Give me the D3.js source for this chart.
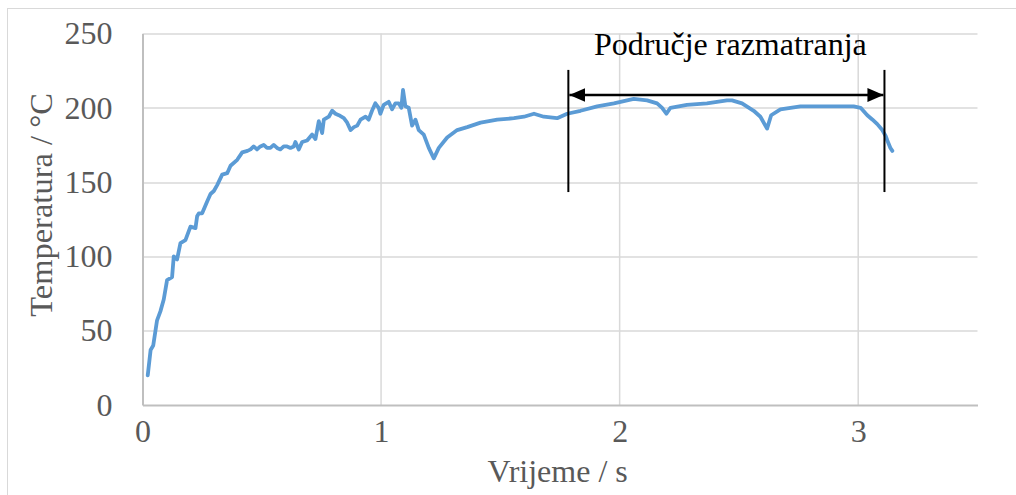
<!DOCTYPE html>
<html>
<head>
<meta charset="utf-8">
<script src="https://cdn.jsdelivr.net/npm/d3@7"></script>
<style>
  body { margin: 0; background: #fff; }
  svg { display: block; }
</style>
</head>
<body>
<div data-output></div>
<script>
// time (s)
const times = [
  0.022, 0.034, 0.045, 0.061, 0.075, 0.089, 0.103, 0.124, 0.131, 0.145, 0.159,
  0.180, 0.201, 0.222, 0.229, 0.236, 0.250, 0.271, 0.285, 0.299, 0.313, 0.334,
  0.355, 0.369, 0.397, 0.418, 0.440, 0.453, 0.466, 0.480, 0.494, 0.508, 0.522,
  0.536, 0.550, 0.564, 0.578, 0.592, 0.606, 0.620, 0.634, 0.641, 0.655, 0.669,
  0.690, 0.711, 0.725, 0.739, 0.753, 0.760, 0.781, 0.795, 0.809, 0.823, 0.844,
  0.858, 0.872, 0.886, 0.900, 0.914, 0.935, 0.948, 0.962, 0.976, 0.990, 0.997,
  1.011, 1.032, 1.046, 1.060, 1.074, 1.085, 1.092, 1.102, 1.116, 1.130, 1.144,
  1.158, 1.179, 1.200, 1.221, 1.242, 1.277, 1.319, 1.361, 1.417, 1.487, 1.557,
  1.599, 1.641, 1.682, 1.738, 1.780, 1.836, 1.906, 1.976, 2.059, 2.115, 2.157,
  2.178, 2.196, 2.213, 2.282, 2.366, 2.450, 2.471, 2.513, 2.562, 2.590, 2.618,
  2.635, 2.674, 2.758, 2.869, 2.981, 3.010, 3.038, 3.060, 3.080, 3.101, 3.115,
  3.122, 3.135, 3.143
];
// temperature (°C)
const temps = [
  20, 37, 40, 57, 63, 71, 84, 86, 100, 98, 109,
  111, 120, 119, 127, 129, 129, 137, 142, 144, 148, 155,
  156, 161, 165, 170, 171, 172, 174, 172, 174, 175, 173,
  173, 175, 173, 172, 174, 174, 173, 174, 177, 172, 177,
  178, 182, 179, 191, 183, 192, 194, 198, 196, 195, 193,
  190, 185, 187, 188, 192, 194, 192, 198, 203, 200, 196,
  202, 204, 199, 203, 203, 200, 212, 201, 200, 188, 192,
  185, 182, 173, 166, 173, 180, 185, 187, 190, 192, 193,
  194, 196, 194, 193, 196, 198, 201, 203, 206, 205, 203,
  200, 196, 200, 202, 203, 205, 205, 203, 198, 194, 186,
  195, 199, 201, 201, 201, 200, 195, 192, 189, 185, 181,
  178, 173, 171
];

const xTicks = [0, 1, 2, 3];
const yTicks = [0, 50, 100, 150, 200, 250];

// annotation, in data units
const regionStart = 1.785;
const regionEnd = 3.11;
const regionLabel = 'Područje razmatranja';

const W = 1016, H = 495;
const margin = { top: 33.5, left: 142.5 };
const plotW = 835, plotH = 371.5;

const x = d3.scaleLinear().domain([0, 3.5]).range([0, plotW]);
const y = d3.scaleLinear().domain([0, 250]).range([plotH, 0]);

const data = times.map((t, i) => ({ t, v: temps[i] }));

const svg = d3.select('[data-output]').append('svg')
  .attr('width', W)
  .attr('height', H);

// outer frame
svg.append('rect')
  .attr('x', 7.5).attr('y', 8.5)
  .attr('width', W + 10).attr('height', H + 10)
  .attr('fill', 'none')
  .attr('stroke', '#d9d9d9');

const g = svg.append('g')
  .attr('transform', `translate(${margin.left}, ${margin.top})`);

const font = '"Liberation Serif", "Times New Roman", serif';

// gridlines
g.append('g')
  .selectAll('line.h')
  .data(yTicks.filter(d => d > 0))
  .join('line')
  .attr('x1', 0).attr('x2', plotW)
  .attr('y1', d => Math.round(y(d)) + 0.5).attr('y2', d => Math.round(y(d)) + 0.5)
  .attr('stroke', '#d9d9d9').attr('stroke-width', 1.5);

g.append('g')
  .selectAll('line.v')
  .data(xTicks.filter(d => d > 0))
  .join('line')
  .attr('x1', d => x(d)).attr('x2', d => x(d))
  .attr('y1', 0).attr('y2', plotH)
  .attr('stroke', '#d9d9d9').attr('stroke-width', 1.5);

// axes
const xAxis = g.append('g')
  .attr('transform', `translate(0, ${plotH})`)
  .call(d3.axisBottom(x).tickValues(xTicks).tickSize(0).tickPadding(14).tickFormat(d3.format('d')));
xAxis.select('.domain').attr('stroke', '#bfbfbf').attr('stroke-width', 2);

const yAxis = g.append('g')
  .call(d3.axisLeft(y).tickValues(yTicks).tickSize(0).tickPadding(30).tickFormat(d3.format('d')));
yAxis.select('.domain').attr('stroke', '#bfbfbf').attr('stroke-width', 2);

svg.selectAll('.tick text')
  .attr('font-family', font)
  .attr('font-size', 32)
  .attr('fill', '#595959');

// the curve
g.append('path')
  .datum(data)
  .attr('fill', 'none')
  .attr('stroke', '#5b9bd5')
  .attr('stroke-width', 3.8)
  .attr('stroke-linejoin', 'round')
  .attr('stroke-linecap', 'round')
  .attr('d', d3.line().x(d => x(d.t)).y(d => y(d.v)));

// region markers
const markTop = 225.5, markBottom = 143.3, arrowAt = 208.6;
[regionStart, regionEnd].forEach(t => {
  g.append('line')
    .attr('x1', x(t)).attr('x2', x(t))
    .attr('y1', y(markTop)).attr('y2', y(markBottom))
    .attr('stroke', '#000').attr('stroke-width', 2);
});

svg.append('defs').selectAll('marker')
  .data(['s', 'e'])
  .join('marker')
  .attr('id', d => 'arr-' + d)
  .attr('viewBox', '0 0 16 14')
  .attr('refX', 16)
  .attr('refY', 7)
  .attr('markerWidth', 16).attr('markerHeight', 14)
  .attr('markerUnits', 'userSpaceOnUse')
  .attr('orient', 'auto-start-reverse')
  .append('path')
  .attr('d', 'M0,0 L16,7 L0,14 Z')
  .attr('fill', '#000');

g.append('line')
  .attr('x1', x(regionStart) + 1).attr('x2', x(regionEnd) - 1)
  .attr('y1', y(arrowAt)).attr('y2', y(arrowAt))
  .attr('stroke', '#000').attr('stroke-width', 2.5)
  .attr('marker-start', 'url(#arr-s)')
  .attr('marker-end', 'url(#arr-e)');

g.append('text')
  .attr('x', x((regionStart + regionEnd) / 2) + 4)
  .attr('y', y(235.5))
  .attr('text-anchor', 'middle')
  .attr('font-family', font)
  .attr('font-size', 32)
  .attr('fill', '#000')
  .text(regionLabel);

// axis titles
svg.append('text')
  .attr('transform', `translate(52, 205) rotate(-90)`)
  .attr('text-anchor', 'middle')
  .attr('font-family', font)
  .attr('font-size', 32.5)
  .attr('fill', '#595959')
  .text('Temperatura / °C');

svg.append('text')
  .attr('x', margin.left + x(1.74))
  .attr('y', 482)
  .attr('text-anchor', 'middle')
  .attr('font-family', font)
  .attr('font-size', 32)
  .attr('fill', '#595959')
  .text('Vrijeme / s');
</script>
</body>
</html>
